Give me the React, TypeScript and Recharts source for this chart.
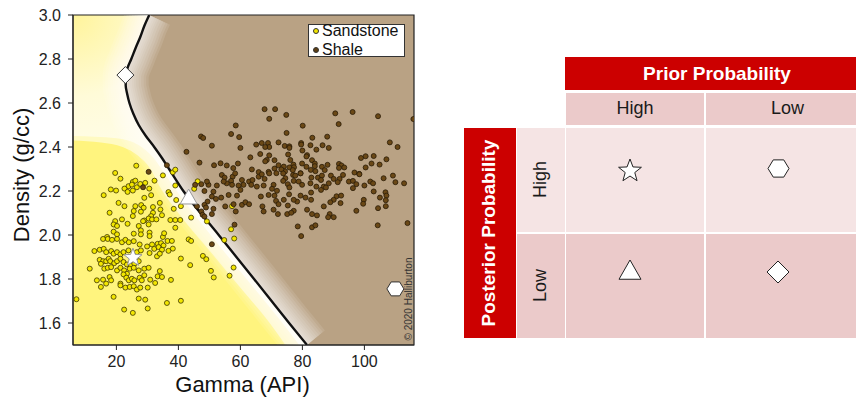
import React from "react";
import {
  ComposedChart,
  Area,
  Line,
  Scatter,
  XAxis,
  YAxis,
  ReferenceArea,
  Legend,
  Label,
} from "recharts";

const gammaTicks = [20, 40, 60, 80, 100];
const densityTicks = [1.6, 1.8, 2.0, 2.2, 2.4, 2.6, 2.8, 3.0];

// decision boundary, read from top (3.0) down to the bottom edge
const boundary = [
  { g: 30.6, d: 3.0 }, { g: 29.0, d: 2.95 }, { g: 27.7, d: 2.9 }, { g: 26.2, d: 2.85 },
  { g: 24.8, d: 2.8 }, { g: 23.6, d: 2.76 }, { g: 23.0, d: 2.72 }, { g: 23.0, d: 2.68 },
  { g: 23.5, d: 2.64 }, { g: 24.2, d: 2.6 }, { g: 25.5, d: 2.55 }, { g: 27.2, d: 2.5 },
  { g: 29.5, d: 2.45 }, { g: 32.2, d: 2.4 }, { g: 34.7, d: 2.35 }, { g: 37.0, d: 2.3 },
  { g: 41.6, d: 2.2 }, { g: 53.0, d: 2.0 }, { g: 64.4, d: 1.8 }, { g: 75.7, d: 1.6 },
  { g: 81.5, d: 1.5 },
];

// shale side of the boundary: [lower, upper] density at each gamma
const shaleZone = [
  { g: 23.0, range: [2.7, 2.7] }, { g: 23.5, range: [2.64, 2.745] },
  { g: 24.2, range: [2.6, 2.775] }, { g: 24.8, range: [2.58, 2.8] },
  { g: 25.5, range: [2.55, 2.825] }, { g: 26.2, range: [2.53, 2.85] },
  { g: 27.2, range: [2.5, 2.88] }, { g: 27.7, range: [2.49, 2.9] },
  { g: 29.0, range: [2.46, 2.95] }, { g: 29.5, range: [2.45, 2.965] },
  { g: 30.6, range: [2.43, 3.0] }, { g: 32.2, range: [2.4, 3.0] },
  { g: 34.7, range: [2.35, 3.0] }, { g: 37.0, range: [2.3, 3.0] },
  { g: 41.6, range: [2.2, 3.0] }, { g: 53.0, range: [2.0, 3.0] },
  { g: 64.4, range: [1.8, 3.0] }, { g: 75.7, range: [1.6, 3.0] },
  { g: 81.5, range: [1.5, 3.0] }, { g: 116, range: [1.5, 3.0] },
];

const plotTop = [{ g: 6, d: 3.0 }, { g: 116, d: 3.0 }];

const paleSandZone = [
  { g: 6, d: 2.45 }, { g: 20, d: 2.44 }, { g: 27, d: 2.41 }, { g: 32, d: 2.35 },
  { g: 36, d: 2.27 }, { g: 40, d: 2.19 }, { g: 51, d: 1.99 }, { g: 62, d: 1.8 },
  { g: 73, d: 1.61 }, { g: 79, d: 1.5 },
];

const sandZone = [
  { g: 6, d: 2.43 }, { g: 15, d: 2.42 }, { g: 22, d: 2.4 }, { g: 27, d: 2.36 },
  { g: 31, d: 2.3 }, { g: 34, d: 2.22 }, { g: 40, d: 2.1 }, { g: 50, d: 1.93 },
  { g: 60, d: 1.76 }, { g: 70, d: 1.59 }, { g: 74.5, d: 1.5 },
];

const sandstonePts = [
  [26.4, 2.315], [19.6, 2.282], [21.3, 2.256], [32.3, 2.247], [35.0, 2.271], [25.3, 2.241],
  [26.1, 2.247], [23.9, 2.222], [25.0, 2.229], [26.6, 2.217], [27.7, 2.232], [29.3, 2.237],
  [30.6, 2.211], [15.9, 2.181], [18.2, 2.207], [19.9, 2.202], [22.6, 2.211], [23.6, 2.196],
  [25.3, 2.202], [29.0, 2.169], [31.2, 2.181], [34.0, 2.146], [20.7, 2.146], [22.6, 2.131],
  [26.1, 2.131], [28.0, 2.136], [28.8, 2.124], [31.8, 2.127], [34.2, 2.116], [17.8, 2.101],
  [25.6, 2.109], [25.3, 2.086], [27.9, 2.106], [31.8, 2.101], [31.2, 2.086], [30.4, 2.075],
  [31.5, 2.071], [29.0, 2.066], [21.8, 2.071], [19.6, 2.063], [19.1, 2.048], [20.2, 2.041],
  [23.6, 2.051], [27.2, 2.041], [27.9, 2.021], [28.6, 2.063], [30.4, 2.048], [32.9, 2.071],
  [34.7, 2.09], [19.1, 2.015], [20.2, 2.003], [25.6, 2.006], [27.9, 2.003], [30.7, 2.011],
  [30.7, 1.995], [17.0, 1.991], [35.0, 1.991],
  [15.7, 1.982], [17.2, 1.982], [18.6, 1.978], [20.2, 1.982], [21.8, 1.967], [22.9, 1.978],
  [24.0, 1.967], [25.6, 1.972], [27.5, 1.957], [29.9, 1.948], [31.5, 1.957], [33.3, 1.96],
  [34.4, 1.963], [35.2, 1.952], [12.9, 1.927], [14.6, 1.933], [15.9, 1.937], [16.7, 1.922],
  [18.3, 1.927], [19.1, 1.915], [20.2, 1.922], [21.3, 1.912], [22.3, 1.922], [23.9, 1.93],
  [26.6, 1.922], [27.9, 1.93], [30.7, 1.918], [32.2, 1.937], [33.6, 1.945], [34.7, 1.933],
  [14.6, 1.887], [15.7, 1.881], [15.0, 1.869], [16.7, 1.881], [17.5, 1.892], [18.0, 1.881],
  [19.3, 1.872], [20.2, 1.881], [21.3, 1.892], [22.3, 1.877], [23.4, 1.866], [24.7, 1.862],
  [25.8, 1.869], [27.2, 1.881], [33.1, 1.903], [34.0, 1.915], [11.4, 1.847], [16.1, 1.847],
  [17.2, 1.851], [18.3, 1.854], [20.2, 1.839], [21.3, 1.851], [22.5, 1.839], [23.4, 1.824],
  [24.3, 1.847], [25.6, 1.851], [27.2, 1.839], [29.0, 1.847], [30.4, 1.851], [34.0, 1.836],
  [13.7, 1.794], [15.7, 1.797], [16.7, 1.779], [17.8, 1.809], [18.3, 1.794], [21.3, 1.779],
  [22.3, 1.821], [23.2, 1.806], [24.0, 1.794], [25.0, 1.801], [25.8, 1.794], [27.5, 1.806],
  [28.2, 1.794], [29.0, 1.817], [30.9, 1.797], [33.3, 1.812], [34.7, 1.809], [15.0, 1.764],
  [21.3, 1.771], [22.9, 1.761], [24.3, 1.764], [25.6, 1.767], [26.6, 1.752], [27.7, 1.761],
  [30.1, 1.761], [32.5, 1.782], [7.1, 1.708], [19.1, 1.719], [27.2, 1.711], [29.3, 1.706],
  [22.5, 1.661], [25.3, 1.646], [30.1, 1.666],
  [38.2, 2.285], [39.0, 2.297], [36.8, 2.195], [37.2, 2.184], [39.0, 2.225], [39.3, 2.159],
  [46.2, 2.244], [45.1, 2.21], [40.8, 2.131], [38.5, 2.119], [44.1, 2.079], [37.4, 2.068],
  [39.0, 2.068], [40.6, 2.068], [39.0, 2.033], [35.4, 2.008], [36.5, 1.973], [37.9, 1.973],
  [43.3, 1.98], [44.1, 1.973], [38.2, 1.938], [36.8, 1.928], [40.8, 1.893], [47.9, 1.905],
  [49.0, 1.89], [43.8, 1.863], [50.5, 1.837], [51.4, 1.807], [37.6, 1.796], [36.3, 1.691],
  [40.8, 1.701], [57.0, 2.026], [58.0, 1.984], [54.8, 1.977], [57.8, 1.852], [56.5, 1.815],
  [57.3, 2.131], [49.2, 2.062],
];

const shalePts = [
  [74.8, 2.546], [90.6, 2.553], [96.2, 2.559], [104.4, 2.54], [91.7, 2.504], [80.1, 2.497],
  [74.9, 2.464], [83.2, 2.442], [88.0, 2.447], [79.6, 2.418], [79.6, 2.411], [74.3, 2.405],
  [75.8, 2.403], [75.8, 2.396], [82.6, 2.408], [86.5, 2.408], [88.5, 2.396], [84.5, 2.388],
  [80.0, 2.384], [108.2, 2.421], [110.7, 2.4], [75.4, 2.366], [81.5, 2.363], [81.3, 2.357],
  [76.1, 2.341], [83.1, 2.34], [84.0, 2.325], [84.0, 2.313], [79.9, 2.325], [74.0, 2.311],
  [75.8, 2.307], [77.1, 2.32], [77.3, 2.308], [76.9, 2.295], [74.4, 2.289], [73.2, 2.298],
  [81.3, 2.31], [86.3, 2.31], [88.1, 2.319], [87.2, 2.295], [91.8, 2.323], [92.6, 2.316],
  [93.5, 2.307], [91.8, 2.305], [98.9, 2.35], [100.4, 2.358], [103.0, 2.359], [107.1, 2.344],
  [104.9, 2.32], [102.3, 2.325], [100.4, 2.307], [96.8, 2.284], [98.3, 2.278], [79.4, 2.281],
  [82.7, 2.296], [84.2, 2.29], [115.8, 2.527],
  [73.8, 2.28], [74.5, 2.258], [73.8, 2.246], [75.3, 2.231], [77.0, 2.273], [77.7, 2.27],
  [79.4, 2.28], [77.2, 2.246], [78.8, 2.243], [79.9, 2.228], [75.8, 2.216], [75.7, 2.185],
  [74.0, 2.16], [75.3, 2.134], [82.9, 2.261], [82.6, 2.235], [84.5, 2.22], [85.0, 2.261],
  [86.3, 2.27], [86.0, 2.25], [86.9, 2.22], [86.0, 2.205], [87.6, 2.216], [89.2, 2.27],
  [90.1, 2.255], [92.0, 2.255], [93.1, 2.273], [91.4, 2.24], [88.5, 2.235], [95.0, 2.243],
  [96.3, 2.246], [97.4, 2.231], [96.3, 2.213], [98.4, 2.276], [100.0, 2.225], [101.9, 2.243],
  [102.8, 2.235], [106.2, 2.258], [109.2, 2.27], [110.0, 2.24], [112.8, 2.235], [103.0, 2.198],
  [105.0, 2.17], [106.8, 2.194], [107.1, 2.179], [106.9, 2.158], [106.9, 2.131], [104.4, 2.122],
  [99.8, 2.16], [99.6, 2.142], [79.4, 2.179], [81.0, 2.17], [82.8, 2.193], [82.8, 2.16],
  [78.3, 2.152], [77.2, 2.16], [91.0, 2.176], [92.5, 2.179], [90.1, 2.16], [89.0, 2.149],
  [92.3, 2.145], [86.9, 2.13], [81.5, 2.115], [77.2, 2.11], [75.1, 2.095], [76.4, 2.101],
  [83.1, 2.095], [84.7, 2.089], [88.8, 2.095], [88.3, 2.081], [90.1, 2.081], [97.4, 2.11],
  [78.5, 2.039], [83.1, 2.035], [84.2, 2.044], [79.6, 1.995], [104.3, 2.044], [113.9, 2.054],
  [67.8, 2.572], [71.2, 2.572], [69.3, 2.528], [58.5, 2.498], [57.0, 2.459], [59.6, 2.445],
  [60.0, 2.396], [50.8, 2.406], [47.3, 2.448], [48.0, 2.441], [42.6, 2.378], [65.1, 2.411],
  [66.9, 2.418], [68.9, 2.418], [69.3, 2.4], [68.0, 2.4], [72.3, 2.421], [66.4, 2.368],
  [69.3, 2.362], [63.2, 2.353], [68.5, 2.341], [68.0, 2.335], [71.0, 2.34], [72.3, 2.317],
  [46.8, 2.329], [51.5, 2.317], [53.6, 2.326], [55.6, 2.316], [57.7, 2.304], [59.2, 2.325],
  [63.7, 2.298], [65.9, 2.286], [69.1, 2.287], [71.0, 2.302], [71.6, 2.281], [36.3, 2.317],
  [54.0, 2.273], [54.9, 2.261], [57.5, 2.265], [57.0, 2.246], [58.3, 2.28], [60.5, 2.25],
  [61.0, 2.228], [62.8, 2.243], [63.9, 2.25], [65.9, 2.265], [66.9, 2.276], [67.8, 2.255],
  [69.3, 2.28], [70.7, 2.228], [70.2, 2.21], [71.8, 2.201], [71.0, 2.179], [71.5, 2.155],
  [72.3, 2.14], [67.5, 2.225], [65.3, 2.22], [63.5, 2.228], [59.4, 2.225], [57.3, 2.228],
  [55.6, 2.235], [54.6, 2.243], [52.4, 2.225], [49.7, 2.228], [49.2, 2.243], [47.4, 2.231],
  [45.4, 2.228], [48.4, 2.2], [51.3, 2.197], [50.8, 2.175], [52.1, 2.164], [49.4, 2.152],
  [48.4, 2.137], [48.9, 2.125], [46.0, 2.13], [47.4, 2.107], [47.8, 2.092], [48.4, 2.084],
  [50.8, 2.095], [51.3, 2.119], [55.1, 2.13], [57.8, 2.14], [58.5, 2.107], [60.5, 2.137],
  [61.6, 2.149], [62.8, 2.14], [67.1, 2.13], [67.5, 2.107], [70.7, 2.115], [72.1, 2.095],
  [56.2, 2.182], [58.9, 2.179], [60.0, 2.205], [69.1, 2.182], [66.6, 2.175], [53.8, 2.17],
  [58.1, 2.047], [50.8, 1.958], [30.4, 2.287], [28.6, 2.217],
];

// the four example points and the table cells they belong to
const diamondPt = [{ g: 22.9, d: 2.727 }];
const trianglePt = [{ g: 43.3, d: 2.17 }];
const starPt = [{ g: 25.35, d: 1.897 }];
const hexagonPt = [{ g: 110, d: 1.755 }];

const priorLevels = ["High", "Low"];
const posteriorLevels = ["High", "Low"];
const tableMarks = [
  ["star", "hexagon"],
  ["triangle", "diamond"],
];

const toPts = (arr: number[][]) => arr.map(([g, d]) => ({ g, d }));

// soft white halo either side of the boundary, widest first
const glowWidths = [46, 41, 36, 31, 26, 21, 17, 13, 9, 5];

const FONT = "'Liberation Sans', Arial, sans-serif";

function markPath(kind: string, cx: number, cy: number, s: number) {
  if (kind === "star") {
    const pts = [];
    for (let i = 0; i < 10; i++) {
      const r = i % 2 === 0 ? s : s * 0.42;
      const a = -Math.PI / 2 + (i * Math.PI) / 5;
      pts.push(`${cx + r * Math.cos(a)},${cy + r * Math.sin(a)}`);
    }
    return "M" + pts.join("L") + "Z";
  }
  if (kind === "hexagon") {
    const w = s, h = s * 0.82;
    return `M${cx - w},${cy}L${cx - w / 2},${cy - h}L${cx + w / 2},${cy - h}L${cx + w},${cy}L${cx + w / 2},${cy + h}L${cx - w / 2},${cy + h}Z`;
  }
  if (kind === "triangle") {
    return `M${cx},${cy - s}L${cx + s},${cy + s * 0.75}L${cx - s},${cy + s * 0.75}Z`;
  }
  return `M${cx},${cy - s}L${cx + s},${cy}L${cx},${cy + s}L${cx - s},${cy}Z`;
}

const markShape = (kind: string, s: number, stroke: string) => (p: any) => (
  <path d={markPath(kind, p.cx, p.cy, s)} fill="#fff" stroke={stroke} strokeWidth={1} />
);

const dotShape = (fill: string, stroke: string) => (p: any) => (
  <circle cx={p.cx} cy={p.cy} r={2.5} fill={fill} stroke={stroke} strokeWidth={0.8} />
);

const renderLegend = (props: any) => (
  <div
    style={{
      position: "relative",
      background: "#fff",
      border: "1px solid #333",
      height: 31,
      width: 95,
      fontFamily: FONT,
      fontSize: 16,
      color: "#111",
    }}
  >
    {(props.payload || [])
      .filter((e: any) => e.type !== "none")
      .map((e: any, i: number) => (
        <div
          key={e.value}
          style={{
            position: "absolute",
            left: 4,
            top: -4 + i * 19,
            height: 19,
            display: "flex",
            alignItems: "center",
            lineHeight: "19px",
            whiteSpace: "nowrap",
          }}
        >
          <span
            style={{
              width: 4,
              height: 4,
              borderRadius: "50%",
              background: e.color,
              border: "0.8px solid #333",
              marginRight: 3,
              display: "inline-block",
            }}
          />
          {e.value}
        </div>
      ))}
  </div>
);

function Scatterplot() {
  return (
    <ComposedChart
      width={430}
      height={401}
      margin={{ top: 15, right: 16, bottom: 0, left: 0 }}
    >
      <defs>
        <radialGradient id="creamBg" cx="0" cy="0" r="0.55">
          <stop offset="0" stopColor="#fff49a" />
          <stop offset="0.45" stopColor="#fffbd8" />
          <stop offset="1" stopColor="#fffef2" />
        </radialGradient>
      </defs>
      <XAxis
        type="number"
        dataKey="g"
        domain={[6, 116]}
        ticks={gammaTicks}
        allowDataOverflow
        height={56}
        tickSize={5}
        tickMargin={6}
        stroke="#222"
        tick={{ fill: "#222", fontSize: 16, fontFamily: FONT }}
      >
        <Label
          content={({ viewBox }: any) => (
            <text
              x={viewBox.x + viewBox.width / 2 - 1}
              y={viewBox.y + 47}
              textAnchor="middle"
              fontSize={22}
              fontFamily={FONT}
              fill="#111"
            >
              Gamma (API)
            </text>
          )}
        />
      </XAxis>
      <YAxis
        type="number"
        dataKey="d"
        domain={[1.5, 3.0]}
        ticks={densityTicks}
        allowDataOverflow
        width={73}
        tickSize={5}
        tickMargin={7}
        stroke="#222"
        tickFormatter={(v: number) => v.toFixed(1)}
        tick={{ fill: "#222", fontSize: 16, fontFamily: FONT }}
      >
        <Label
          content={({ viewBox }: any) => {
            const x = viewBox.x + 21;
            const y = viewBox.y + viewBox.height / 2 - 5;
            return (
              <text
                x={x}
                y={y}
                transform={`rotate(-90 ${x} ${y})`}
                textAnchor="middle"
                dominantBaseline="central"
                fontSize={22}
                fontFamily={FONT}
                fill="#111"
              >
                Density (g/cc)
              </text>
            );
          }}
        />
      </YAxis>

      <Area data={plotTop} dataKey="d" type="linear" stroke="none" fill="url(#creamBg)" fillOpacity={1} isAnimationActive={false} legendType="none" />
      <Area data={paleSandZone} dataKey="d" type="monotone" stroke="none" fill="#fffac2" fillOpacity={1} isAnimationActive={false} legendType="none" />
      <Area data={sandZone} dataKey="d" type="monotone" stroke="none" fill="#fff47e" fillOpacity={1} isAnimationActive={false} legendType="none" />
      <Area data={shaleZone} dataKey="range" type="linear" stroke="none" fill="#b9a284" fillOpacity={1} isAnimationActive={false} legendType="none" />

      {glowWidths.map((w) => (
        <Line
          key={w}
          data={boundary}
          dataKey="d"
          type="monotoneY"
          stroke="#ffffff"
          strokeWidth={w}
          strokeOpacity={0.1}
          dot={false}
          activeDot={false}
          isAnimationActive={false}
          legendType="none"
        />
      ))}
      <Line
        data={boundary}
        dataKey="d"
        type="monotoneY"
        stroke="#111"
        strokeWidth={2.4}
        dot={false}
        activeDot={false}
        isAnimationActive={false}
        legendType="none"
      />

      <Scatter name="Sandstone" data={toPts(sandstonePts)} fill="#f2e600" shape={dotShape("#f2e600", "#3d3600")} isAnimationActive={false} />
      <Scatter name="Shale" data={toPts(shalePts)} fill="#5e3f12" shape={dotShape("#6a4816", "#2a1c08")} isAnimationActive={false} />

      <Scatter data={diamondPt} shape={markShape("diamond", 8.5, "#333")} isAnimationActive={false} legendType="none" />
      <Scatter data={trianglePt} shape={markShape("triangle", 8.5, "#999")} isAnimationActive={false} legendType="none" />
      <Scatter data={starPt} shape={markShape("star", 9.5, "#999")} isAnimationActive={false} legendType="none" />
      <Scatter data={hexagonPt} shape={markShape("hexagon", 8.5, "#333")} isAnimationActive={false} legendType="none" />

      <ReferenceArea x1={6} x2={116} y1={1.5} y2={3.0} fill="none" stroke="#222" strokeWidth={1.2} ifOverflow="visible" />

      <Legend
        layout="vertical"
        align="center"
        verticalAlign="middle"
        wrapperStyle={{ top: 24, left: 308, width: 97, height: 33 }}
        content={renderLegend}
      />
    </ComposedChart>
  );
}

function Mark({ kind, x, y, s }: { kind: string; x: number; y: number; s: number }) {
  return (
    <svg
      width={2 * s + 6}
      height={2 * s + 6}
      style={{ position: "absolute", left: x - s - 3, top: y - s - 3 }}
    >
      <path d={markPath(kind, s + 3, s + 3, s)} fill="#fff" stroke="#222" strokeWidth={1} />
    </svg>
  );
}

function ProbabilityTable() {
  const red = "#cc0000";
  const dark = "#ebcaca";
  const light = "#f5e4e4";
  const cols = [
    { left: 566, width: 138 },
    { left: 705.5, width: 164 },
  ];
  const rows = [
    { top: 127.5, height: 104.5, bg: light },
    { top: 233.5, height: 104, bg: dark },
  ];
  const box = (extra: React.CSSProperties): React.CSSProperties => ({
    position: "absolute",
    display: "flex",
    alignItems: "center",
    justifyContent: "center",
    ...extra,
  });
  return (
    <div style={{ position: "absolute", left: 0, top: 0, width: 856, height: 401, fontFamily: FONT }}>
      <div style={box({ left: 565, top: 57, width: 304, height: 33, background: red, color: "#fff", fontWeight: "bold", fontSize: 19 })}>
        Prior Probability
      </div>
      {priorLevels.map((lv, i) => (
        <div key={"c" + lv} style={box({ left: cols[i].left, top: 92.5, width: cols[i].width, height: 32.5, background: dark, color: "#1a1a1a", fontSize: 18 })}>
          {lv}
        </div>
      ))}
      <div style={box({ left: 464, top: 127.5, width: 51.5, height: 210, background: red })}>
        <span style={{ transform: "rotate(-90deg)", whiteSpace: "nowrap", color: "#fff", fontWeight: "bold", fontSize: 19 }}>
          Posterior Probability
        </span>
      </div>
      {posteriorLevels.map((lv, r) => (
        <div key={"r" + lv} style={box({ left: 516.5, top: rows[r].top, width: 48, height: rows[r].height, background: rows[r].bg })}>
          <span style={{ transform: "rotate(-90deg)", whiteSpace: "nowrap", color: "#1a1a1a", fontSize: 18 }}>{lv}</span>
        </div>
      ))}
      {rows.map((row, r) =>
        cols.map((col, c) => (
          <div key={`b${r}${c}`} style={box({ left: col.left, top: row.top, width: col.width, height: row.height, background: row.bg })} />
        ))
      )}
      <Mark kind={tableMarks[0][0]} x={629.5} y={171} s={12} />
      <Mark kind={tableMarks[0][1]} x={778} y={168.5} s={10.5} />
      <Mark kind={tableMarks[1][0]} x={629.5} y={271} s={11} />
      <Mark kind={tableMarks[1][1]} x={778} y={271.5} s={11} />
    </div>
  );
}

export default function App() {
  return (
    <div
      style={{
        position: "absolute",
        left: 0,
        top: 0,
        width: 856,
        height: 401,
        overflow: "hidden",
        background: "#fff",
        fontFamily: FONT,
      }}
    >
      <ProbabilityTable />
      <div style={{ position: "absolute", left: 0, top: 0 }}>
        <Scatterplot />
      </div>
      <div
        style={{
          position: "absolute",
          left: 408,
          top: 298.5,
          transform: "translate(-50%, -50%) rotate(-90deg)",
          whiteSpace: "nowrap",
          fontSize: 10,
          color: "#333",
        }}
      >
        © 2020 Halliburton
      </div>
    </div>
  );
}
